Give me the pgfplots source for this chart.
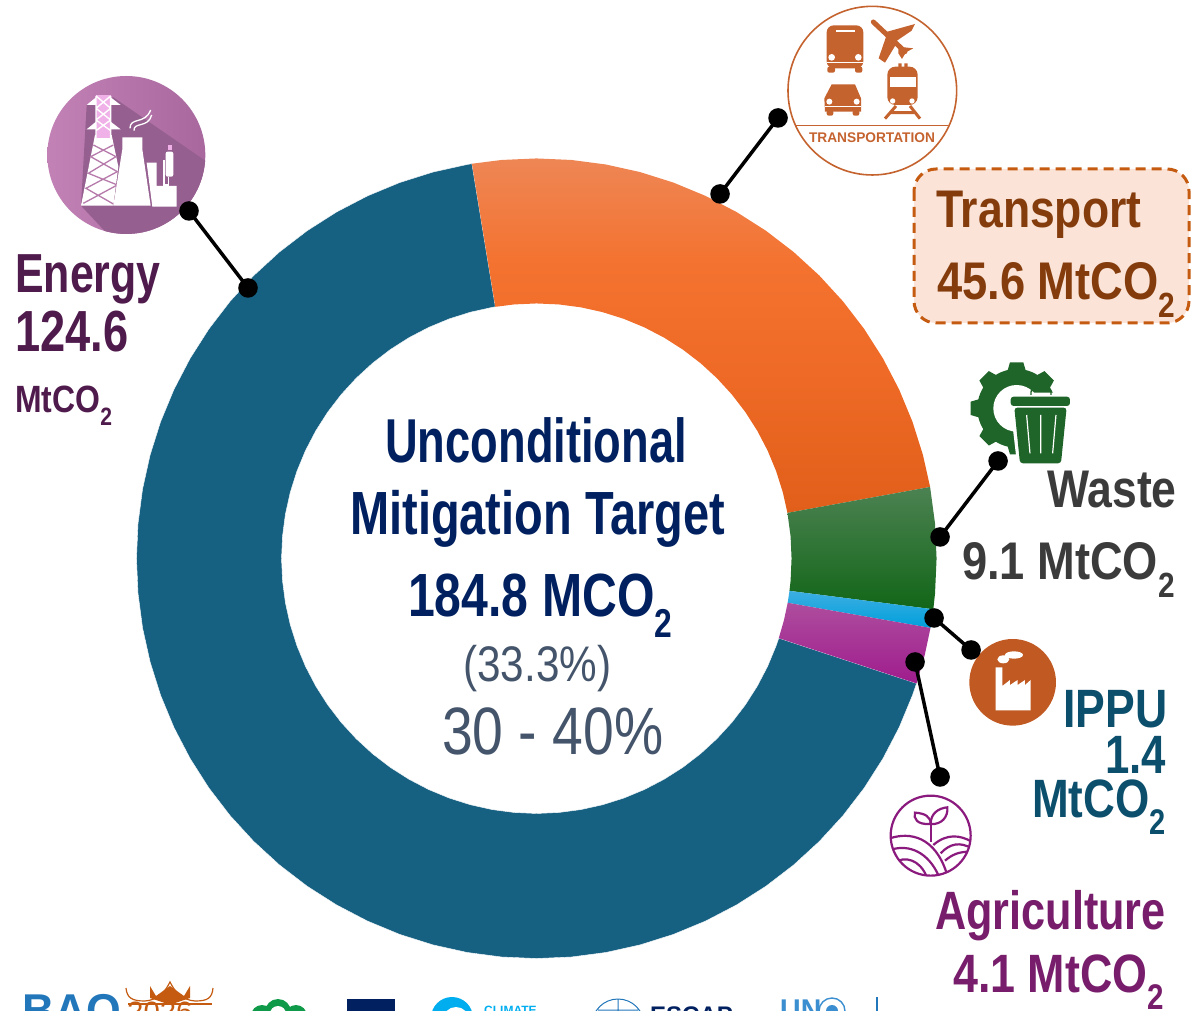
\documentclass[border=0pt]{standalone}
\usepackage{graphicx}
\usepackage{fontspec}
\setmainfont{Liberation Sans}
\usepackage{pgfplots}
\pgfplotsset{compat=1.18}
\definecolor{cenergy}{HTML}{166082}
\definecolor{ctrtop}{HTML}{EE8655}
\definecolor{ctrmid}{HTML}{F4722F}
\definecolor{ctrlow}{HTML}{EE6A26}
\definecolor{ctrbot}{HTML}{E15F1A}
\definecolor{cwtop}{HTML}{4C8252}
\definecolor{cwmid}{HTML}{15701E}
\definecolor{cwbot}{HTML}{126618}
\definecolor{cbtop}{HTML}{3DAEE2}
\definecolor{cbbot}{HTML}{00A0DC}
\definecolor{catop}{HTML}{AE4D9E}
\definecolor{cabot}{HTML}{9F1C8D}
\definecolor{navy}{HTML}{002060}
\definecolor{slate}{HTML}{44546A}
\definecolor{boxfill}{HTML}{FBE4D7}
\definecolor{boxline}{HTML}{C55A11}
\definecolor{boxtext}{HTML}{843C0C}
\definecolor{enertext}{HTML}{4F1A4C}
\definecolor{wastetext}{HTML}{3B3B3B}
\definecolor{ipputext}{HTML}{0B4F6C}
\definecolor{agritext}{HTML}{771D6B}
\definecolor{icotr}{HTML}{C5632F}
\definecolor{icoipp}{HTML}{C05A22}
\definecolor{icow}{HTML}{1F6428}
\definecolor{icoag}{HTML}{8B1A7E}
\definecolor{enl}{HTML}{C282B6}
\definecolor{enr}{HTML}{A8689E}
\definecolor{ensh}{HTML}{955F8F}
\definecolor{enpk}{HTML}{F0B0E8}
\definecolor{enx}{HTML}{B67AAB}
\definecolor{logob}{HTML}{2277BB}
\definecolor{logoc}{HTML}{00AEEF}
\definecolor{logog}{HTML}{0E9A48}
\definecolor{logou}{HTML}{3B8FD0}
\pgfdeclareverticalshading{orangeS}{100bp}{color(0bp)=(ctrbot); color(25bp)=(ctrbot); color(45bp)=(ctrlow); color(60bp)=(ctrmid); color(75bp)=(ctrtop); color(100bp)=(ctrtop)}
\newcommand{\subtwo}{\raisebox{-0.33em}{\scalebox{0.66}{2}}}
\newcommand{\tx}[7][base west]{\node[anchor=#1,inner sep=0pt,text=#6] at (#2,#3) {\fontsize{#4}{#4}\selectfont\scalebox{#5}[1]{#7}};}
\begin{document}
\begin{tikzpicture}
\path[use as bounding box,clip] (0,0) rectangle (1191pt,1010pt);
\begin{scope}[x=1pt,y=-1pt,yshift=1010pt]
% ---------- energy icon
\begin{scope}[shift={(30,60)},scale=0.3333]
\begin{scope}
\clip (289,285) circle[radius=237];
\shade[left color=enl,right color=enr] (50,45) rectangle (530,525);
\fill[ensh] (250,112) -- (530,305) -- (530,530) -- (240,530) -- (153,437) -- (170,135) -- cycle;
\end{scope}
\fill[white] (195,225) -- (245,225) -- (265,320) -- (250,437) -- (153,437) -- cycle;
\fill[white] (170,135) -- (198,112) -- (198,135) -- cycle;
\fill[white] (242,112) -- (272,135) -- (242,135) -- cycle;
\fill[white] (170,208) -- (198,185) -- (198,208) -- cycle;
\fill[white] (242,185) -- (272,208) -- (242,208) -- cycle;
\fill[enpk] (198,105) rectangle (242,235);
\draw[white,line width=1.4pt] (198,108) -- (242,145) (242,108) -- (198,145) (198,145) -- (242,180) (242,145) -- (198,180) (198,180) -- (242,212) (242,180) -- (198,212) (198,108) -- (198,235) (242,108) -- (242,235);
\draw[enx,line width=1.3pt] (190,255) -- (258,290) -- (175,340) -- (262,375) -- (160,430) (250,255) -- (182,290) -- (262,335) -- (168,385) -- (250,432);
\fill[white] (277,232) -- (337,232) -- (337,268) -- (362,437) -- (250,437) -- (277,268) -- cycle;
\fill[white] (350,308) -- (380,308) -- (380,378) -- (440,378) -- (440,440) -- (367,440) -- cycle;
\fill[white,rounded corners=2pt] (407,275) rectangle (430,350);
\draw[white,line width=1.2pt] (402,300) -- (402,375) -- (415,375) -- (415,350);
\fill[enpk] (413,255) rectangle (425,270);
\draw[white,line width=1.3pt] (300,205) .. controls (300,170) and (345,195) .. (362,150);
\draw[white,line width=1.3pt] (312,212) .. controls (310,185) and (355,205) .. (365,165);
\end{scope}
% ---------- transport icon
\begin{scope}[shift={(770,0)},scale=0.3333]
\draw[icotr,line width=1.6pt] (307,272) circle[radius=253];
\draw[icotr,line width=1.2pt] (78,376) -- (535,376);
\fill[icotr,rounded corners=7pt] (170,76) rectangle (280,205);
\fill[icotr,rounded corners=2pt] (172,200) rectangle (195,218) (255,200) rectangle (277,218);
\fill[white] (197,90) rectangle (255,97);
\draw[white,line width=0.7pt] (170,188) -- (280,188);
\fill[white] (185,172) circle[radius=10] (265,172) circle[radius=10];
\draw[icotr,line width=5pt,line cap=round] (310,66) -- (405,155);
\fill[icotr] (345,97) -- (435,72) -- (425,92) -- (372,128) -- cycle;
\fill[icotr] (350,105) -- (380,130) -- (345,188) -- (326,175) -- cycle;
\fill[icotr] (385,140) -- (430,145) -- (408,157) -- (396,177) -- (385,160) -- cycle;
\fill[icotr] (163,295) -- (185,253) -- (255,253) -- (273,295) -- (273,335) -- (165,335) -- cycle;
\fill[icotr,rounded corners=2pt] (170,330) rectangle (190,347) (248,330) rectangle (268,347);
\fill[white] (178,305) circle[radius=9] (260,305) circle[radius=9];
\draw[white,line width=0.7pt] (165,320) -- (273,320);
\fill[icotr,rounded corners=8pt] (352,200) rectangle (443,315);
\fill[icotr] (385,190) rectangle (395,205) (403,190) rectangle (413,205);
\fill[white] (360,230) rectangle (437,262);
\fill[white] (368,303) circle[radius=8] (426,303) circle[radius=8];
\draw[icotr,line width=3pt] (378,318) -- (345,356) (420,318) -- (450,356) (362,338) -- (436,338);
\end{scope}
\tx[base]{872}{143}{14}{0.98}{icotr}{\bfseries TRANSPORTATION}
% ---------- transport box
\draw[boxline,fill=boxfill,line width=3pt,dash pattern=on 10pt off 6pt,rounded corners=22pt] (914,169) rectangle (1189,323);
% ---------- waste icon
\begin{scope}[shift={(770,350)},scale=0.3333]
\fill[icow] (740,175) circle[radius=118];
\foreach \a in {0,45,...,315} {\fill[icow,rotate around={\a:(740,175)}] (706,85) -- (720,37) -- (760,37) -- (774,85) -- cycle;}
\fill[white] (740,175) circle[radius=70];
\fill[white] (712,128) -- (910,128) -- (910,178) -- (885,350) -- (742,350) -- (722,178) -- cycle;
\draw[icow,line width=1.4pt,rounded corners=2pt] (783,135) -- (783,120) -- (843,120) -- (843,135);
\fill[icow,rounded corners=3pt] (722,140) rectangle (900,168);
\fill[icow,rounded corners=3pt] (733,173) -- (890,173) -- (873,340) -- (750,340) -- cycle;
\draw[white,line width=1.2pt] (770,195) -- (780,310) (812,195) -- (812,310) (858,195) -- (848,310);
\end{scope}
% ---------- IPPU icon
\begin{scope}[shift={(870,650)},scale=0.3333]
\fill[icoipp] (428,97) circle[radius=130];
\fill[white] (377,52) -- (397,52) -- (397,108) -- (420,90) -- (420,105) -- (443,90) -- (443,105) -- (465,90) -- (465,105) -- (482,90) -- (482,181) -- (377,181) -- cycle;
\fill[white] (400,28) ellipse[x radius=18,y radius=12] (432,15) ellipse[x radius=27,y radius=11];
\end{scope}
% ---------- agriculture icon
\begin{scope}[shift={(870,650)},scale=0.3333]
\draw[icoag,line width=2.2pt] (182,557) circle[radius=120];
\begin{scope}
\clip (182,557) circle[radius=120];
\draw[icoag,line width=2.2pt] (182,575) -- (182,515);
\draw[icoag,line width=2.2pt] (182,522) .. controls (140,525) and (130,505) .. (135,488) .. controls (165,490) and (182,500) .. (182,522);
\draw[icoag,line width=2.2pt] (182,522) .. controls (182,490) and (205,475) .. (232,472) .. controls (235,500) and (215,525) .. (182,522);
\draw[icoag,line width=2.2pt] (60,565) .. controls (120,545) and (195,560) .. (230,670);
\draw[icoag,line width=2.2pt] (60,600) .. controls (120,580) and (175,610) .. (205,675);
\draw[icoag,line width=2.2pt] (70,640) .. controls (105,615) and (150,630) .. (170,680);
\draw[icoag,line width=2.2pt] (190,585) .. controls (230,550) and (270,555) .. (305,575);
\draw[icoag,line width=2.2pt] (212,610) .. controls (240,580) and (270,575) .. (305,595);
\draw[icoag,line width=2.2pt] (225,632) .. controls (245,615) and (265,605) .. (300,605);
\end{scope}
\end{scope}
\end{scope}
% ---------- the doughnut, values (polar: angle, radius)
\begin{axis}[at={(0pt,0pt)},anchor=south west,scale only axis,width=1191pt,height=1010pt,
  xmin=-536.5,xmax=654.5,ymin=-451.5,ymax=558.5,hide axis,clip=false]
\addplot[data cs=polar,fill=cenergy,draw=white,line width=0.4pt] coordinates {
(-18.2,400)(-20,400)(-25,400)(-30,400)(-35,400)(-40,400)(-45,400)(-50,400)(-55,400)(-60,400)(-65,400)(-70,400)(-75,400)(-80,400)(-85,400)(-90,400)(-95,400)(-100,400)(-105,400)(-110,400)(-115,400)(-120,400)(-125,400)(-130,400)(-135,400)(-140,400)(-145,400)(-150,400)(-155,400)(-160,400)(-165,400)(-170,400)(-175,400)(-180,400)(-185,400)(-190,400)(-195,400)(-200,400)(-205,400)(-210,400)(-215,400)(-220,400)(-225,400)(-230,400)(-235,400)(-240,400)(-245,400)(-250,400)(-255,400)(-260,400)(-260.7,400)
(-260.7,255)(-260,255)(-255,255)(-250,255)(-245,255)(-240,255)(-235,255)(-230,255)(-225,255)(-220,255)(-215,255)(-210,255)(-205,255)(-200,255)(-195,255)(-190,255)(-185,255)(-180,255)(-175,255)(-170,255)(-165,255)(-160,255)(-155,255)(-150,255)(-145,255)(-140,255)(-135,255)(-130,255)(-125,255)(-120,255)(-115,255)(-110,255)(-105,255)(-100,255)(-95,255)(-90,255)(-85,255)(-80,255)(-75,255)(-70,255)(-65,255)(-60,255)(-55,255)(-50,255)(-45,255)(-40,255)(-35,255)(-30,255)(-25,255)(-20,255)(-18.2,255)
(-18.2,400)};
\addplot[data cs=polar,shade,shading=orangeS,draw=none] coordinates {
(99.3,400)(95,400)(90,400)(85,400)(80,400)(75,400)(70,400)(65,400)(60,400)(55,400)(50,400)(45,400)(40,400)(35,400)(30,400)(25,400)(20,400)(15,400)(10.3,400)
(10.3,255)(15,255)(20,255)(25,255)(30,255)(35,255)(40,255)(45,255)(50,255)(55,255)(60,255)(65,255)(70,255)(75,255)(80,255)(85,255)(90,255)(95,255)(99.3,255)
(99.3,400)};
\addplot[data cs=polar,top color=cwtop,middle color=cwmid,bottom color=cwbot,draw=none] coordinates {
(10.3,400)(5,400)(0,400)(-5,400)(-7.3,400)(-7.3,255)(-5,255)(0,255)(5,255)(10.3,255)(10.3,400)};
\addplot[data cs=polar,top color=cbtop,bottom color=cbbot,draw=none] coordinates {
(-7.3,400)(-10,400)(-10,255)(-7.3,255)(-7.3,400)};
\addplot[data cs=polar,top color=catop,bottom color=cabot,draw=none] coordinates {
(-10,400)(-14,400)(-18.2,400)(-18.2,255)(-14,255)(-10,255)(-10,400)};
\addplot[black,line width=3.5pt,mark=*,mark size=8pt,mark options={fill=black,draw=none}] coordinates {(-347.5,347.5)(-288.5,270.5)};
\addplot[black,line width=3.5pt,mark=*,mark size=8pt,mark options={fill=black,draw=none}] coordinates {(241.5,440.5)(183.5,364.5)};
\addplot[black,line width=3.5pt,mark=*,mark size=8pt,mark options={fill=black,draw=none}] coordinates {(461.5,97.5)(403.5,21.5)};
\addplot[black,line width=3.5pt,mark=*,mark size=8pt,mark options={fill=black,draw=none}] coordinates {(397.5,-59.5)(434.5,-91.5)};
\addplot[black,line width=3.5pt,mark=*,mark size=8pt,mark options={fill=black,draw=none}] coordinates {(378.5,-103.5)(403.5,-218.5)};
\end{axis}
\begin{scope}[x=1pt,y=-1pt,yshift=1010pt]
% ---------- centre
\tx{385}{463}{62}{0.73}{navy}{\bfseries Unconditional}
\tx{350}{535}{61}{0.77}{navy}{\bfseries Mitigation Target}
\tx{408}{617}{61}{0.79}{navy}{\bfseries 184.8 MCO\subtwo}
\tx{463}{682}{50}{0.845}{slate}{(33.3\%)}
\tx{442}{755}{67}{0.825}{slate}{30 - 40\%}
% ---------- labels
\tx{15}{293}{55}{0.78}{enertext}{\bfseries Energy}
\tx{15}{352}{58}{0.78}{enertext}{\bfseries 124.6}
\tx{15}{413}{38}{0.84}{enertext}{\bfseries MtCO\subtwo}
\tx{936}{228}{53}{0.84}{boxtext}{\bfseries Transport}
\tx{937}{300}{53}{0.855}{boxtext}{\bfseries 45.6 MtCO\subtwo}
\tx{1047}{508}{53}{0.84}{wastetext}{\bfseries Waste}
\tx{962}{580}{53}{0.853}{wastetext}{\bfseries 9.1 MtCO\subtwo}
\tx{1063}{727}{54}{0.825}{ipputext}{\bfseries IPPU}
\tx{1105}{773}{54}{0.81}{ipputext}{\bfseries 1.4}
\tx{1032}{817}{54}{0.815}{ipputext}{\bfseries MtCO\subtwo}
\tx{935}{929}{54}{0.80}{agritext}{\bfseries Agriculture}
\tx{953}{992}{54}{0.83}{agritext}{\bfseries 4.1 MtCO\subtwo}
% ---------- logos, cut by the lower edge
\tx{22}{1026}{46}{0.97}{logob}{\bfseries BAQ}
\draw[boxline,line width=1.2pt] (126,988) .. controls (127,998) and (132,1001) .. (145,1001) .. controls (158,1000) and (165,992) .. (170,982) .. controls (175,992) and (182,1000) .. (195,1001) .. controls (208,1001) and (212,998) .. (213,988);
\draw[boxline,line width=1.2pt] (128,1004) -- (212,1004);
\fill[boxline] (150,998) -- (150,986) -- (156,996) -- (170,986) -- (184,996) -- (190,986) -- (190,998) -- (175,1003) -- (165,1003) -- cycle;
\tx{127}{1021}{28}{1.05}{boxline}{2026}
\fill[logog] (278,1012) circle[radius=13] (262,1016) circle[radius=11] (296,1016) circle[radius=11];
\fill[white] (278,1014) circle[radius=8];
\fill[navy] (347,999) rectangle (395,1015);
\fill[logoc] (452,1018) circle[radius=21];
\fill[white] (456,1020) circle[radius=13];
\tx{484}{1014}{12}{1}{logoc}{\bfseries CLIMATE}
\draw[logob,line width=1pt] (618,1025) circle[radius=26] (618,999) -- (618,1015) (598,1010) -- (638,1010);
\tx{650}{1023}{24}{1}{navy}{\bfseries ESCAP}
\tx{780}{1020}{30}{0.95}{logou}{\bfseries UN}
\draw[logou,line width=1.4pt] (832,1011) circle[radius=13];
\fill[logou] (832,1011) circle[radius=6];
\fill[logob] (875.5,997) rectangle (877.5,1012);
\end{scope}
\end{tikzpicture}
\end{document}
